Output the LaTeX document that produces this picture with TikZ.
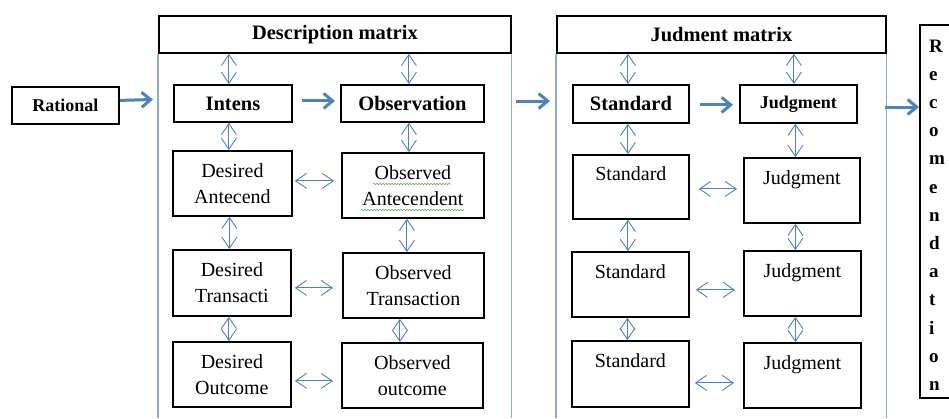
\documentclass[tikz,border=0pt]{standalone}
\usepackage{fontspec}
\setmainfont{Liberation Serif}
\usetikzlibrary{arrows.meta,decorations.pathmorphing}
\definecolor{arrowblue}{RGB}{79,129,189}
\definecolor{contblue}{RGB}{140,170,212}
\definecolor{spellgreen}{RGB}{90,170,90}
\tikzset{
  box/.style={draw, line width=1.8pt, inner sep=0pt, align=center, anchor=north west},
  hdr/.style={box, font=\fontsize{20.5}{24}\selectfont\bfseries},
  plain/.style={box, font=\fontsize{20}{26}\selectfont},
  cont/.style={draw=contblue, line width=1.3pt},
  bigarrow/.style={draw=arrowblue, line width=3pt, -{Straight Barb[length=9pt,width=15pt]}},
  dbl/.style={draw=arrowblue, line width=0.9pt, {Straight Barb[length=11pt,width=15pt]}-{Straight Barb[length=11pt,width=15pt]}},
  squiggle/.style={draw=spellgreen, line width=0.6pt, decorate, decoration={snake, amplitude=0.7pt, segment length=3pt}}
}
\begin{document}
\begin{tikzpicture}[x=1pt,y=-1pt]
\useasboundingbox (0,0) rectangle (949,418);
\clip (0,0) rectangle (949,418);
\coordinate (bot) at (0,418);
% headers
\node[hdr, minimum width=107pt, minimum height=37pt, font=\fontsize{18}{20}\selectfont\bfseries] (rational) at (11,86) {Rational};
\node[hdr, minimum width=352pt, minimum height=37pt] (descH) at (158,15) {Description matrix};
\node[hdr, minimum width=329pt, minimum height=37pt] (judH) at (556,15) {Judment matrix};
% container lines
\draw[cont] (descH.south west) -- (descH.south west |- bot);
\draw[cont] (descH.south east) -- (descH.south east |- bot);
\draw[cont] (judH.south west) -- (judH.south west |- bot);
\draw[cont] (judH.south east) -- (judH.south east |- bot);
\coordinate (dL) at (153,99.5);
\coordinate (dR) at (509,101);
\coordinate (jL) at (556,101);
\coordinate (jR) at (885,107);
\coordinate (recIn) at (919,107);
% description boxes
\node[hdr, minimum width=118pt, minimum height=37pt] (intens) at (173,84) {Intens};
\node[hdr, minimum width=143pt, minimum height=37pt] (obs) at (340,84) {Observation};
\node[plain, minimum width=119pt, minimum height=65pt] (desAnt) at (172,150) {Desired\\Antecend};
\node[plain, minimum width=142pt, minimum height=65pt] (obsAnt) at (341,152) {Observed\\Antecendent};
\node[plain, minimum width=118pt, minimum height=66pt] (desTrans) at (172,249) {Desired\\Transacti};
\node[plain, minimum width=141pt, minimum height=65pt] (obsTrans) at (342,252) {Observed\\Transaction};
\node[plain, minimum width=118pt, minimum height=65pt] (desOut) at (172,341) {Desired\\Outcome};
\node[plain, minimum width=141pt, minimum height=65pt] (obsOut) at (341,342) {Observed\\outcome};
% judgment boxes
\node[hdr, minimum width=116pt, minimum height=38pt] (stdB) at (572,84) {Standard};
\node[hdr, minimum width=117pt, minimum height=38pt, font=\fontsize{18}{22}\selectfont\bfseries] (judB) at (739,84) {Judgment};
\node[plain, minimum width=116pt, minimum height=64pt] (std1) at (572,154) {Standard\\\mbox{}};
\node[plain, minimum width=117pt, minimum height=65pt] (std2) at (571,251) {Standard\\\mbox{}};
\node[plain, minimum width=117pt, minimum height=66pt] (std3) at (571,340) {Standard\\\mbox{}};
\node[plain, minimum width=116pt, minimum height=65pt] (j1) at (743,157) {Judgment\\\mbox{}};
\node[plain, minimum width=117pt, minimum height=65pt] (j2) at (743,250) {Judgment\\\mbox{}};
\node[plain, minimum width=117pt, minimum height=65pt] (j3) at (743,342) {Judgment\\\mbox{}};
% recommendation
\node[box, minimum width=90pt, minimum height=373pt] (rec) at (919,24) {};
\node[anchor=north west, inner sep=0pt, align=left, font=\fontsize{19}{28.2}\selectfont\bfseries] (recText) at (929,39.5)
  {R\\e\\c\\o\\m\\e\\n\\d\\a\\t\\i\\o\\n};
% spell check squiggles
\draw[squiggle] (373,184) -- (451,184);
\draw[squiggle] (361,210) -- (464,210);
% thick arrows
\draw[bigarrow] ([yshift=5pt]rational.east) -- (dL);
\draw[bigarrow, shorten <=9pt, shorten >=5pt] ([yshift=2.5pt]intens.east) -- ([yshift=2.5pt]obs.west);
\draw[bigarrow, shorten <=7pt, shorten >=6pt] (dR) -- (jL);
\draw[bigarrow, shorten <=10pt, shorten >=6pt] ([yshift=-1pt]stdB.east) -- ([yshift=-1pt]stdB.east -| judB.west);
\draw[bigarrow] (jR) -- (recIn);
% vertical double arrows, description
\draw[dbl] ([xshift=-4pt]intens.north) -- ([xshift=-4pt]intens.north |- descH.south);
\draw[dbl] ([xshift=-4pt]intens.south) -- ([xshift=-4pt]intens.south |- desAnt.north);
\draw[dbl] ([xshift=-3pt]desAnt.south) -- ([xshift=-3pt]desAnt.south |- desTrans.north);
\draw[dbl] ([xshift=-3pt]desTrans.south) -- ([xshift=-3pt]desTrans.south |- desOut.north);
\draw[dbl] ([xshift=-3.5pt]obs.north) -- ([xshift=-3.5pt]obs.north |- descH.south);
\draw[dbl] ([xshift=-3.5pt]obs.south) -- ([xshift=-3.5pt]obs.south |- obsAnt.north);
\draw[dbl] ([xshift=-6pt]obsAnt.south) -- ([xshift=-6pt]obsAnt.south |- obsTrans.north);
\draw[dbl] ([xshift=-13.5pt]obsTrans.south) -- ([xshift=-13.5pt]obsTrans.south |- obsOut.north);
% horizontal double arrows, description
\draw[dbl, shorten <=2pt, shorten >=7pt] ([yshift=2.5pt]desAnt.east) -- ([yshift=2.5pt]desAnt.east -| obsAnt.west);
\draw[dbl, shorten <=3pt, shorten >=9pt] ([yshift=-5pt]desTrans.east) -- ([yshift=-5pt]desTrans.east -| obsTrans.west);
\draw[dbl, shorten <=3pt, shorten >=8pt] ([yshift=-6.5pt]desOut.east) -- ([yshift=-6.5pt]desOut.east -| obsOut.west);
% vertical double arrows, judgment
\draw[dbl] ([xshift=-3pt]stdB.north) -- ([xshift=-3pt]stdB.north |- judH.south);
\draw[dbl] ([xshift=-3pt]stdB.south) -- ([xshift=-3pt]stdB.south |- std1.north);
\draw[dbl] ([xshift=-3pt]std1.south) -- ([xshift=-3pt]std1.south |- std2.north);
\draw[dbl] ([xshift=-3pt]std2.south) -- ([xshift=-3pt]std2.south |- std3.north);
\draw[dbl] ([xshift=-4.5pt]judB.north) -- ([xshift=-4.5pt]judB.north |- judH.south);
\draw[dbl] ([xshift=-6.5pt]j1.north) -- ([xshift=-6.5pt]j1.north |- judB.south);
\draw[dbl] ([xshift=-6.5pt]j1.south) -- ([xshift=-6.5pt]j1.south |- j2.north);
\draw[dbl] ([xshift=-7pt]j2.south) -- ([xshift=-7pt]j2.south |- j3.north);
% horizontal double arrows, judgment
\draw[dbl, shorten <=9pt, shorten >=6pt] ([yshift=-2pt]std1.east) -- ([yshift=-2pt]std1.east -| j1.west);
\draw[dbl, shorten <=6pt, shorten >=8pt] ([yshift=-5.5pt]std2.east) -- ([yshift=-5.5pt]std2.east -| j2.west);
\draw[dbl, shorten <=5pt, shorten >=9pt] ([yshift=-9pt]std3.east) -- ([yshift=-9pt]std3.east -| j3.west);
\end{tikzpicture}
\end{document}
